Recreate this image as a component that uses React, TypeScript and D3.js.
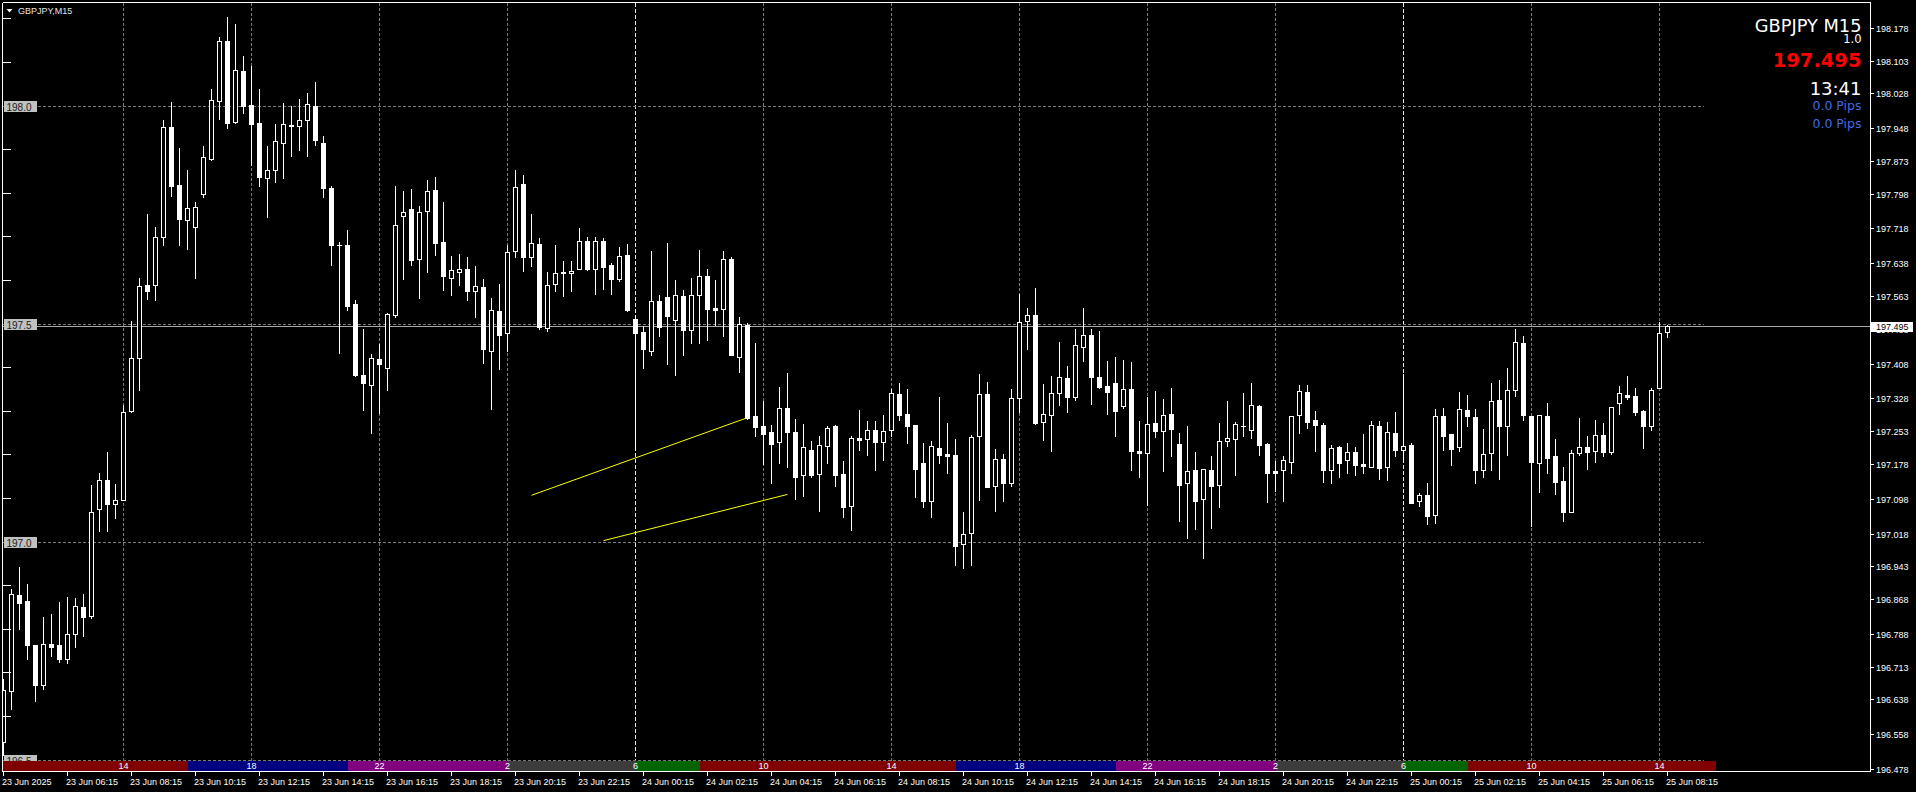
import React from "react";
import * as d3 from "d3";

// GBPJPY M15 candles, 23 Jun 04:15 .. 25 Jun 08:15 (server time)
const opens = [
  196.540, 196.658, 196.877, 196.863, 196.762, 196.671, 196.765, 196.762, 196.731, 196.788,
  196.850, 196.829, 197.074, 197.141, 197.087, 197.096, 197.299, 197.422, 197.588, 197.588,
  197.699, 197.950, 197.817, 197.737, 197.722, 197.797, 197.878, 198.011, 198.147, 197.962,
  198.080, 198.002, 197.961, 197.833, 197.853, 197.914, 197.954, 197.954, 197.967, 198.000,
  197.913, 197.811, 197.681, 197.681, 197.545, 197.383, 197.358, 197.419, 197.397, 197.519,
  197.747, 197.762, 197.648, 197.758, 197.807, 197.688, 197.604, 197.618, 197.626, 197.574,
  197.583, 197.438, 197.529, 197.478, 197.666, 197.819, 197.653, 197.683, 197.489, 197.591,
  197.615, 197.615, 197.625, 197.690, 197.625, 197.690, 197.634, 197.602, 197.657, 197.510,
  197.481, 197.438, 197.552, 197.561, 197.507, 197.564, 197.486, 197.566, 197.608, 197.536,
  197.534, 197.649, 197.424, 197.497, 197.287, 197.265, 197.251, 197.229, 197.307, 197.251,
  197.153, 197.210, 197.154, 197.218, 197.264, 197.155, 197.082, 197.237, 197.236, 197.256,
  197.229, 197.256, 197.339, 197.293, 197.267, 197.180, 197.094, 197.214, 197.201, 197.199,
  196.994, 197.019, 197.241, 197.338, 197.128, 197.189, 197.134, 197.329, 197.505, 197.520,
  197.273, 197.291, 197.340, 197.375, 197.332, 197.447, 197.473, 197.377, 197.357, 197.363,
  197.310, 197.350, 197.208, 197.203, 197.271, 197.253, 197.293, 197.224, 197.134, 197.164,
  197.097, 197.164, 197.130, 197.231, 197.236, 197.264, 197.256, 197.311, 197.224, 197.162,
  197.163, 197.183, 197.289, 197.343, 197.279, 197.268, 197.164, 197.217, 197.186, 197.205,
  197.178, 197.172, 197.265, 197.172, 197.249, 197.211, 197.222, 197.094, 197.107, 197.060,
  197.287, 197.246, 197.216, 197.301, 197.285, 197.163, 197.203, 197.325, 197.264, 197.347,
  197.456, 197.288, 197.180, 197.288, 197.196, 197.139, 197.068, 197.203, 197.217, 197.208,
  197.245, 197.206, 197.317, 197.336, 197.334, 197.300, 197.266, 197.353, 197.480,
];
const highs = [
  196.685, 196.890, 196.941, 196.902, 196.762, 196.826, 196.834, 196.861, 196.873, 196.870,
  196.879, 197.130, 197.158, 197.206, 197.132, 197.313, 197.506, 197.605, 197.750, 197.722,
  197.967, 198.009, 197.903, 197.853, 197.779, 197.907, 198.037, 198.156, 198.202, 198.187,
  198.113, 198.090, 198.037, 197.907, 197.957, 198.005, 198.000, 198.014, 198.029, 198.055,
  197.931, 197.816, 197.688, 197.714, 197.553, 197.488, 197.430, 197.452, 197.524, 197.816,
  197.803, 197.808, 197.770, 197.828, 197.835, 197.778, 197.654, 197.660, 197.653, 197.631,
  197.603, 197.558, 197.591, 197.681, 197.853, 197.840, 197.752, 197.695, 197.618, 197.681,
  197.644, 197.644, 197.718, 197.699, 197.699, 197.696, 197.639, 197.676, 197.683, 197.520,
  197.495, 197.667, 197.566, 197.685, 197.600, 197.577, 197.604, 197.669, 197.625, 197.600,
  197.667, 197.652, 197.516, 197.502, 197.456, 197.323, 197.268, 197.354, 197.386, 197.281,
  197.269, 197.231, 197.241, 197.264, 197.268, 197.185, 197.242, 197.302, 197.277, 197.277,
  197.290, 197.350, 197.363, 197.350, 197.267, 197.227, 197.231, 197.332, 197.271, 197.235,
  197.067, 197.245, 197.385, 197.366, 197.212, 197.201, 197.350, 197.568, 197.535, 197.581,
  197.362, 197.380, 197.458, 197.403, 197.488, 197.535, 197.487, 197.483, 197.414, 197.423,
  197.417, 197.411, 197.277, 197.332, 197.346, 197.327, 197.353, 197.248, 197.265, 197.206,
  197.166, 197.196, 197.272, 197.323, 197.273, 197.341, 197.364, 197.313, 197.225, 197.185,
  197.196, 197.287, 197.359, 197.359, 197.300, 197.271, 197.222, 197.219, 197.225, 197.217,
  197.247, 197.277, 197.277, 197.274, 197.297, 197.385, 197.225, 197.112, 197.135, 197.304,
  197.307, 197.246, 197.343, 197.336, 197.304, 197.258, 197.364, 197.371, 197.398, 197.488,
  197.472, 197.288, 197.290, 197.317, 197.235, 197.172, 197.209, 197.284, 197.242, 197.279,
  197.272, 197.308, 197.357, 197.380, 197.352, 197.302, 197.352, 197.504, 197.497,
];
const lows = [
  196.510, 196.615, 196.799, 196.731, 196.634, 196.662, 196.737, 196.723, 196.722, 196.758,
  196.783, 196.824, 197.024, 197.024, 197.054, 197.096, 197.297, 197.347, 197.557, 197.553,
  197.679, 197.792, 197.679, 197.670, 197.605, 197.789, 197.875, 197.970, 197.948, 197.960,
  197.982, 197.863, 197.815, 197.744, 197.825, 197.834, 197.884, 197.898, 197.884, 197.909,
  197.789, 197.634, 197.432, 197.530, 197.380, 197.302, 197.249, 197.294, 197.347, 197.516,
  197.603, 197.634, 197.558, 197.617, 197.658, 197.577, 197.566, 197.589, 197.555, 197.516,
  197.409, 197.305, 197.396, 197.436, 197.652, 197.620, 197.631, 197.488, 197.482, 197.575,
  197.564, 197.574, 197.625, 197.622, 197.568, 197.579, 197.568, 197.597, 197.529, 197.210,
  197.397, 197.427, 197.472, 197.408, 197.382, 197.428, 197.456, 197.456, 197.463, 197.497,
  197.472, 197.428, 197.388, 197.281, 197.241, 197.177, 197.134, 197.181, 197.172, 197.098,
  197.105, 197.149, 197.071, 197.180, 197.127, 197.057, 197.026, 197.210, 197.199, 197.163,
  197.187, 197.243, 197.279, 197.227, 197.103, 197.078, 197.057, 197.181, 197.156, 196.946,
  196.940, 196.946, 197.095, 197.126, 197.071, 197.094, 197.128, 197.296, 197.442, 197.269,
  197.233, 197.208, 197.313, 197.296, 197.325, 197.413, 197.316, 197.351, 197.293, 197.241,
  197.307, 197.164, 197.149, 197.084, 197.239, 197.162, 197.195, 197.047, 197.009, 197.029,
  196.963, 197.032, 197.078, 197.219, 197.153, 197.242, 197.237, 197.199, 197.091, 197.116,
  197.093, 197.158, 197.250, 197.261, 197.208, 197.137, 197.135, 197.149, 197.158, 197.153,
  197.158, 197.172, 197.144, 197.141, 197.196, 197.187, 197.089, 197.082, 197.040, 197.043,
  197.210, 197.176, 197.208, 197.265, 197.134, 197.149, 197.163, 197.144, 197.199, 197.334,
  197.279, 197.036, 197.114, 197.158, 197.108, 197.048, 197.068, 197.199, 197.166, 197.183,
  197.195, 197.201, 197.293, 197.327, 197.290, 197.215, 197.256, 197.353, 197.468,
];
const closes = [
  196.660, 196.879, 196.859, 196.763, 196.671, 196.766, 196.758, 196.731, 196.787, 196.852,
  196.827, 197.068, 197.140, 197.087, 197.096, 197.297, 197.421, 197.586, 197.575, 197.699,
  197.950, 197.815, 197.740, 197.765, 197.767, 197.883, 198.013, 198.149, 197.960, 198.081,
  197.998, 197.957, 197.837, 197.853, 197.918, 197.957, 197.955, 197.967, 198.003, 197.920,
  197.811, 197.681, 197.679, 197.539, 197.383, 197.363, 197.421, 197.406, 197.521, 197.727,
  197.756, 197.645, 197.755, 197.803, 197.684, 197.608, 197.623, 197.625, 197.574, 197.587,
  197.442, 197.532, 197.474, 197.664, 197.813, 197.652, 197.685, 197.493, 197.588, 197.616,
  197.617, 197.620, 197.690, 197.624, 197.690, 197.629, 197.602, 197.654, 197.532, 197.479,
  197.442, 197.552, 197.493, 197.518, 197.565, 197.486, 197.565, 197.610, 197.533, 197.530,
  197.649, 197.428, 197.499, 197.283, 197.262, 197.247, 197.224, 197.306, 197.252, 197.149,
  197.216, 197.153, 197.222, 197.260, 197.153, 197.080, 197.237, 197.233, 197.256, 197.229,
  197.253, 197.340, 197.290, 197.264, 197.166, 197.094, 197.219, 197.199, 197.196, 196.990,
  197.017, 197.239, 197.338, 197.126, 197.189, 197.134, 197.329, 197.503, 197.519, 197.271,
  197.293, 197.340, 197.377, 197.332, 197.451, 197.473, 197.378, 197.355, 197.344, 197.300,
  197.349, 197.208, 197.203, 197.270, 197.254, 197.290, 197.259, 197.130, 197.161, 197.094,
  197.166, 197.128, 197.230, 197.237, 197.270, 197.266, 197.313, 197.222, 197.157, 197.158,
  197.186, 197.287, 197.346, 197.275, 197.268, 197.163, 197.214, 197.179, 197.206, 197.176,
  197.174, 197.267, 197.169, 197.251, 197.210, 197.219, 197.089, 197.107, 197.059, 197.287,
  197.243, 197.213, 197.304, 197.287, 197.163, 197.200, 197.322, 197.266, 197.348, 197.458,
  197.289, 197.183, 197.290, 197.192, 197.137, 197.068, 197.203, 197.216, 197.206, 197.245,
  197.206, 197.308, 197.340, 197.332, 197.298, 197.264, 197.348, 197.478, 197.495,
];

const lastPrice = 197.495;

// Time axis: a label every 8 bars (2 hours)
const timeLabels = [
  "23 Jun 2025", "23 Jun 06:15", "23 Jun 08:15", "23 Jun 10:15", "23 Jun 12:15",
  "23 Jun 14:15", "23 Jun 16:15", "23 Jun 18:15", "23 Jun 20:15", "23 Jun 22:15",
  "24 Jun 00:15", "24 Jun 02:15", "24 Jun 04:15", "24 Jun 06:15", "24 Jun 08:15",
  "24 Jun 10:15", "24 Jun 12:15", "24 Jun 14:15", "24 Jun 16:15", "24 Jun 18:15",
  "24 Jun 20:15", "24 Jun 22:15", "25 Jun 00:15", "25 Jun 02:15", "25 Jun 04:15",
  "25 Jun 06:15", "25 Jun 08:15",
];
const timeLabelStep = 8;

// Price scale labels
const priceTicks = [
  "198.178", "198.103", "198.028", "197.948", "197.873", "197.798", "197.718", "197.638",
  "197.563", "197.488", "197.408", "197.328", "197.253", "197.178", "197.098", "197.018",
  "196.943", "196.868", "196.788", "196.713", "196.638", "196.558", "196.478",
];

// Round-number levels and the small level ticks between them
const levels = [198.0, 197.5, 197.0, 196.5];
const levelLabels = ["198.0", "197.5", "197.0", "196.5"];
const minorLevels = [198.2, 198.1, 197.9, 197.8, 197.7, 197.6, 197.4, 197.3, 197.2, 197.1, 196.9, 196.8, 196.7, 196.6];

// Trading sessions (bar where each block starts) and the hour marks every 4 h
const sessionStarts = [0, 23, 43, 63, 79, 87, 119, 139, 159, 175, 183];
const sessionLastBar = 214;
const sessionNames = ["london", "ny", "late", "night", "asia", "london", "ny", "late", "night", "asia", "london"];
const hourMarkBars = [15, 31, 47, 63, 79, 95, 111, 127, 143, 159, 175, 191, 207];
const hourMarkLabels = ["14", "18", "22", "2", "6", "10", "14", "18", "22", "2", "6", "10", "14"];

// Two trend lines: [bar, price] -> [bar, price]
const trendLines = [
  { b0: 66, p0: 197.106, b1: 93, p1: 197.284 },
  { b0: 75, p0: 197.002, b1: 98, p1: 197.108 },
];

const sessionColor: Record<string, string> = {
  london: "#800000",
  ny: "#000080",
  late: "#800080",
  night: "#3c3c3c",
  asia: "#006400",
};

const FONT = "'Liberation Sans', Arial, sans-serif";
const FONT_WIDE = "'DejaVu Sans', sans-serif";

export default function App() {
  const W = 1916;
  const H = 792;
  const left = 2.5;
  const top = 2.5;
  const right = 1870.5;
  const bottom = 771.5;
  const sessTop = 761;

  const x = d3.scaleLinear().domain([0, 208]).range([3.5, 3.5 + 8 * 208]);
  const y = d3.scaleLinear().domain([196.5, 198.0]).range([759.5, 105.5]);
  const py = (p: number) => Math.round(y(p));

  const lastY = py(lastPrice) + 0.5;

  const segments = sessionStarts.map((s, k) => {
    const e = k + 1 < sessionStarts.length ? sessionStarts[k + 1] : sessionLastBar;
    return { x0: k === 0 ? 3 : x(s), x1: x(e), color: sessionColor[sessionNames[k]] };
  });

  return (
    <svg
      width={W}
      height={H}
      style={{ position: "fixed", left: 0, top: 0, display: "block", background: "#000" }}
    >
      <rect x={0} y={0} width={W} height={H} fill="#000" />
      <defs>
        <clipPath id="plot">
          <rect x={3} y={3} width={right - 3.5} height={bottom - 3.5} />
        </clipPath>
      </defs>

      {/* grid: hour marks */}
      <g shapeRendering="crispEdges">
        {hourMarkBars.map((b, k) => {
          const sep = hourMarkLabels[k] === "6";
          return (
            <line
              key={"v" + k}
              x1={x(b)}
              x2={x(b)}
              y1={3}
              y2={sessTop}
              stroke={sep ? "#e8e8e8" : "#7a7a7a"}
              strokeDasharray={sep ? "4,2" : "3,2"}
            />
          );
        })}
        {levels.map((p, k) => (
          <line
            key={"h" + k}
            x1={3}
            x2={1704}
            y1={py(p) + 0.5}
            y2={py(p) + 0.5}
            stroke="#7a7a7a"
            strokeDasharray="3,2"
          />
        ))}
        <line x1={3} x2={right} y1={lastY} y2={lastY} stroke="#a8a8a8" />
      </g>

      {/* trend lines */}
      <g clipPath="url(#plot)">
        {trendLines.map((t, k) => (
          <line
            key={"t" + k}
            x1={x(t.b0)}
            y1={y(t.p0)}
            x2={x(t.b1)}
            y2={y(t.p1)}
            stroke="#ffff00"
            strokeWidth={1}
          />
        ))}
      </g>

      {/* candles */}
      <g clipPath="url(#plot)" shapeRendering="crispEdges">
        {opens.map((o, i) => {
          const c = closes[i];
          const cx = x(i);
          const yt = py(Math.max(o, c));
          const yb = py(Math.min(o, c));
          const bull = c > o;
          let body;
          if (yb - yt < 1) {
            body = <line x1={cx - 2.5} x2={cx + 2.5} y1={yt + 0.5} y2={yt + 0.5} stroke="#fff" />;
          } else if (bull) {
            body = <rect x={cx - 2} y={yt + 0.5} width={4} height={yb - yt} fill="#000" stroke="#fff" />;
          } else {
            body = <rect x={cx - 2.5} y={yt} width={5} height={yb - yt + 1} fill="#fff" />;
          }
          return (
            <g key={i}>
              <line x1={cx} x2={cx} y1={py(highs[i])} y2={py(lows[i]) + 1} stroke="#fff" />
              {body}
            </g>
          );
        })}
      </g>

      {/* level ticks and labels on the left edge */}
      <g shapeRendering="crispEdges">
        {minorLevels.map((p, k) => (
          <line key={"m" + k} x1={3} x2={11} y1={py(p) + 0.5} y2={py(p) + 0.5} stroke="#fff" />
        ))}
        {levels.map((p, k) => (
          <rect key={"lb" + k} x={4} y={py(p) - 5} width={33} height={11} fill="#c0c0c0" />
        ))}
      </g>
      {levels.map((p, k) => (
        <text
          key={"lt" + k}
          x={6.5}
          y={py(p) + 4.5}
          fontFamily={FONT}
          fontSize={10}
          fill="#202020"
        >
          {levelLabels[k]}
        </text>
      ))}

      {/* session bar */}
      <g shapeRendering="crispEdges">
        {segments.map((s, k) => (
          <rect key={"s" + k} x={s.x0} y={sessTop} width={s.x1 - s.x0} height={bottom - sessTop} fill={s.color} />
        ))}
      </g>
      {hourMarkBars.map((b, k) => (
        <text
          key={"sl" + k}
          x={x(b)}
          y={769}
          textAnchor="middle"
          fontFamily={FONT}
          fontSize={9}
          fill="#ffffff"
        >
          {hourMarkLabels[k]}
        </text>
      ))}

      {/* frame */}
      <g shapeRendering="crispEdges" stroke="#fff" fill="none">
        <line x1={left} x2={right} y1={top} y2={top} />
        <line x1={left} x2={left} y1={top} y2={bottom} />
        <line x1={right} x2={right} y1={top} y2={bottom} />
        <line x1={left} x2={right} y1={bottom} y2={bottom} />
      </g>

      {/* time axis */}
      <g shapeRendering="crispEdges">
        {timeLabels.map((_, k) => (
          <line
            key={"tt" + k}
            x1={x(k * timeLabelStep)}
            x2={x(k * timeLabelStep)}
            y1={772}
            y2={776}
            stroke="#fff"
          />
        ))}
      </g>
      {timeLabels.map((lab, k) => (
        <text
          key={"tl" + k}
          x={x(k * timeLabelStep) - 1.5}
          y={784.5}
          fontFamily={FONT}
          fontSize={9}
          fill="#fff"
        >
          {lab}
        </text>
      ))}

      {/* price axis */}
      <g shapeRendering="crispEdges">
        {priceTicks.map((t, k) => (
          <line key={"pt" + k} x1={1871} x2={1874} y1={py(+t) + 0.5} y2={py(+t) + 0.5} stroke="#fff" />
        ))}
      </g>
      {priceTicks.map((t, k) => (
        <text key={"pl" + k} x={1876} y={py(+t) + 3.8} fontFamily={FONT} fontSize={9} fill="#fff">
          {t}
        </text>
      ))}
      <rect x={1871} y={lastY - 5} width={42} height={10.5} fill="#fff" shapeRendering="crispEdges" />
      <text x={1876} y={lastY + 3.5} fontFamily={FONT} fontSize={9} fill="#000">
        {lastPrice.toFixed(3)}
      </text>

      {/* symbol caption */}
      <path d="M6.5,9 L12.5,9 L9.5,12.5 Z" fill="#fff" />
      <text x={18} y={14} fontFamily={FONT} fontSize={9} fill="#e4e4e4">
        GBPJPY,M15
      </text>

      {/* info panel */}
      <g textAnchor="end" fontFamily={FONT_WIDE}>
        <text x={1861.5} y={32.3} fontSize={17.8} fill="#fff">GBPJPY M15</text>
        <text x={1861.5} y={43.3} fontSize={11.5} fill="#fff">1.0</text>
        <text x={1861.5} y={66.7} fontSize={19.5} fontWeight="bold" fill="#ff0000">
          {lastPrice.toFixed(3)}
        </text>
        <text x={1861.5} y={95} fontSize={18} fill="#fff">13:41</text>
        <text x={1861.5} y={110} fontSize={12.5} fill="#4169e1">0.0 Pips</text>
        <text x={1861.5} y={127.7} fontSize={12.5} fill="#4169e1">0.0 Pips</text>
      </g>
    </svg>
  );
}
